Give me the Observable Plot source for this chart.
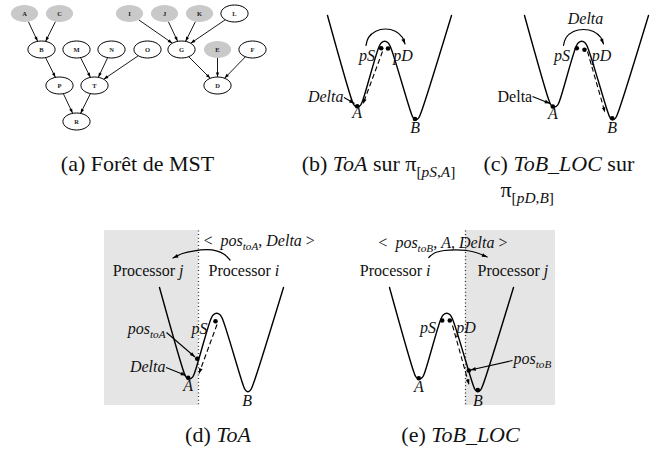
<!DOCTYPE html>
<html><head><meta charset="utf-8">
<script src="https://cdn.jsdelivr.net/npm/d3@7"></script>
<script src="https://cdn.jsdelivr.net/npm/@observablehq/plot@0.6"></script>
<style>body{margin:0;background:#fff}</style>
</head><body><div id="chart"></div>
<script>
// ---------------- data ----------------
// (a) MST forest
const nodeNames = ["A","C","I","J","K","L","B","M","N","O","G","E","F","P","T","D","R"];
const nodeX = [24,59,129,164,199,234,41,76,111,147,181,217,252,59,94,217,76];
const nodeY = [13,13,13,13,13,13,49,49,49,49,49,49,49,85,85,85,121];
const grayNodes = ["A","C","I","J","K","E"];
const edgeFrom = ["A","C","B","M","N","O","P","T","I","J","K","L","G","E","F"];
const edgeTo   = ["B","B","P","T","T","T","R","R","G","G","G","G","D","D","D"];

// W-shaped curve (panel b frame) and per-panel placement
const wX = [327, 351.5, 353.6, 356.8, 360.1, 362.2, 378.4, 380.9, 384.2, 387.5, 390, 410.8, 412.9, 415.4, 418, 420.2, 451];
const wY = [15, 100, 104.6, 106.6, 104.6, 100, 46.5, 42.2, 40.7, 42.2, 46.5, 113, 117.6, 119.3, 117.6, 113, 15];
const wPanel = ["b","c","d","e"];
const wShiftX = [0, 197, -168, 62];
const wShiftY = [0, 0, 272, 272];

// processor regions (d, e)
const shadeX1 = [104, 465], shadeX2 = [198, 555], shadeY1 = [230, 230], shadeY2 = [405, 405];
const dividerX = [198, 465], dividerY1 = [230, 230], dividerY2 = [405, 405];

// black points
const dotX = [356.7,380.7,387.5,414.5, 552.3,576.3,584,611.7, 215,196.7,187.7, 441.7,449.3,468.3,477.3,418.3];
const dotY = [105.8,47.8,48,118.5, 106,47.7,49.3,117.7, 320.7,358.3,377.2, 320,320,370,389.5,377.7];

// solid pointer arrows
const arrowX1 = [343.5, 532, 166, 165.5, 512];
const arrowY1 = [97, 96, 332, 367, 360];
const arrowX2 = [354, 549.5, 194.5, 185.5, 470];
const arrowY2 = [103, 103, 356.5, 375, 369.5];

// dashed arrows
const dashX1 = [382, 587, 216.5, 452];
const dashY1 = [51, 51, 324, 325];
const dashX2 = [362.5, 604.5, 198.5, 468.5];
const dashY2 = [103.5, 112, 373, 384];

// curved arrows
const arcXs = [[365.5,368.1,375.3,385,394.8,401.9,404.5],
               [563,565.7,573,583,593,600.3,603],
               [229.5,224,216,206,194,182,172.5],
               [428.3,434,444,455,466,477,486.7]];
const arcYs = [[45,36.8,30.7,28.5,30.7,36.8,43.5],
               [45,37,31,29,31,37,43.5],
               [259.5,254,250.3,249.2,250.3,253,257.5],
               [257,252.5,250,249.3,250,252.5,256.5]];

// labels (*italic*, ~{subscript})
const labelText = ["*pS*","*pD*","*Delta*","*A*","*B*",
  "*Delta*","*pS*","*pD*","Delta","*A*","*B*",
  "<  *pos*~{*toA*}, *Delta* >","Processor *i*","Processor *j*","*pS*","*pos*~{*toA*}","*Delta*","*A*","*B*",
  "<  *pos*~{*toB*}, *A*, *Delta* >","Processor *i*","Processor *j*","*pS*","*pD*","*pos*~{*toB*}","*A*","*B*"];
const labelX = [366.5,402.5,343,356.7,414.7, 585,561.5,601,531.7,552.3,611.7,
  203,208,183,199,165,165,187.7,246.7, 507,430,477,427.5,465.5,513,418.3,477.3];
const labelY = [55,55,96.5,112.5,127, 18,55,55,96.7,113.5,127,
  240,270,270,328,328,366.7,385.5,400, 242,270,270,327,327,358,386,400];
const labelAnchor = ["middle","middle","end","middle","middle","middle","middle","middle","end","middle","middle",
  "start","start","end","middle","end","end","middle","middle","end","end","start","middle","middle","start","middle","middle"];

// captions
const captionText = ["(a) Forêt de MST","(b) *ToA* sur π~{[*pS*,*A*]}","(c) *ToB_LOC* sur","π~{[*pD*,*B*]}","(d) *ToA*","(e) *ToB_LOC*"];
const captionX = [137, 378, 483, 500, 217.5, 460];
const captionY = [163, 163, 163, 189, 434, 434];
const captionAnchor = ["middle","middle","start","start","middle","middle"];

// ---------------- helpers ----------------
const family = "Liberation Serif, DejaVu Serif, serif";
const mctx = document.createElement("canvas").getContext("2d");
function parseMarkup(str) {
  const segs = []; let it = false, sub = false, buf = "";
  const push = () => { if (buf) segs.push({t: buf, it, sub}); buf = ""; };
  for (let i = 0; i < str.length; i++) {
    const c = str[i];
    if (c === "*") { push(); it = !it; }
    else if (c === "~" && str[i+1] === "{") { push(); sub = true; i++; }
    else if (c === "}" && sub) { push(); sub = false; }
    else buf += c;
  }
  push();
  return segs;
}
function measure(t, it, sz) { mctx.font = `${it ? "italic " : ""}${sz}px "Liberation Serif", "DejaVu Serif", serif`; return mctx.measureText(t).width; }
function layoutText(str, x, y, anchor, fs, subDrop) {
  const segs = parseMarkup(str);
  const sizes = segs.map(s => s.sub ? fs * 0.7 : fs);
  const widths = segs.map((s, k) => measure(s.t, s.it, sizes[k]));
  const total = d3.sum(widths);
  let cx = anchor === "start" ? x : anchor === "end" ? x - total : x - total / 2;
  const base = y + 0.32 * fs;
  const rows = [];
  segs.forEach((s, k) => {
    const lead = s.t.length - s.t.trimStart().length;
    const leadW = lead ? measure(s.t.slice(0, lead), s.it, sizes[k]) : 0;
    const t = s.t.trim();
    if (t) rows.push({x: cx + leadW, y: base + (s.sub ? subDrop * fs : 0) - 0.32 * sizes[k], t, it: s.it, fs: sizes[k]});
    cx += widths[k];
  });
  return rows;
}
function headRow(x0, y0, x1, y1) {
  return {x: x1, y: y1, a: Math.atan2(x1 - x0, -(y1 - y0)) * 180 / Math.PI};
}
const headSymbol = {draw(ctx, size) {
  const r = Math.sqrt(size / Math.PI);
  ctx.moveTo(0, 0); ctx.lineTo(-0.8 * r, 2.3 * r); ctx.lineTo(0.8 * r, 2.3 * r); ctx.closePath();
}};
const ellipseSymbol = {draw(ctx, size) {
  const r = Math.sqrt(size / Math.PI), rx = r * 1.6, ry = r, k = 0.5523;
  ctx.moveTo(rx, 0);
  ctx.bezierCurveTo(rx, k * ry, k * rx, ry, 0, ry);
  ctx.bezierCurveTo(-k * rx, ry, -rx, k * ry, -rx, 0);
  ctx.bezierCurveTo(-rx, -k * ry, -k * rx, -ry, 0, -ry);
  ctx.bezierCurveTo(k * rx, -ry, rx, -k * ry, rx, 0);
  ctx.closePath();
}};

// ---------------- derived tables ----------------
const nodeR = 8.5, nodeRX = nodeR * 1.6, nodeRY = nodeR;
const nodes = nodeNames.map((n, i) => ({n, x: nodeX[i], y: nodeY[i], gray: grayNodes.includes(n)}));
const nodeBy = new Map(nodes.map(d => [d.n, d]));
function boundary(c, ux, uy) {
  const t = 1 / Math.sqrt((ux / nodeRX) ** 2 + (uy / nodeRY) ** 2);
  return [c.x + t * ux, c.y + t * uy];
}
const edges = edgeFrom.map((f, i) => {
  const s = nodeBy.get(f), t = nodeBy.get(edgeTo[i]);
  const dx = t.x - s.x, dy = t.y - s.y, L = Math.hypot(dx, dy), ux = dx / L, uy = dy / L;
  const [x1, y1] = boundary(s, ux, uy);
  const [x2, y2] = boundary(t, -ux, -uy);
  return {x1, y1, x2, y2};
});
const edgeHeads = edges.map(e => headRow(e.x1, e.y1, e.x2, e.y2));

const wRows = [];
wPanel.forEach((p, j) => wX.forEach((x, i) => wRows.push({p, x: x + wShiftX[j], y: wY[i] + wShiftY[j]})));
const arcRows = [];
arcXs.forEach((xs, j) => xs.forEach((x, i) => arcRows.push({id: j, x, y: arcYs[j][i]})));
const arrows = arrowX1.map((x, i) => ({x1: x, y1: arrowY1[i], x2: arrowX2[i], y2: arrowY2[i]}));
const dashes = dashX1.map((x, i) => ({x1: x, y1: dashY1[i], x2: dashX2[i], y2: dashY2[i]}));
const heads = [
  ...arrows.map(a => headRow(a.x1, a.y1, a.x2, a.y2)),
  ...dashes.map(a => headRow(a.x1, a.y1, a.x2, a.y2)),
  ...arcXs.map((xs, j) => { const n = xs.length, ys = arcYs[j]; return headRow(xs[n-2], ys[n-2], xs[n-1], ys[n-1]); })
];
const dots = dotX.map((x, i) => ({x, y: dotY[i]}));
const shades = shadeX1.map((x, i) => ({x1: x, x2: shadeX2[i], y1: shadeY1[i], y2: shadeY2[i]}));
const dividers = dividerX.map((x, i) => ({x, y1: dividerY1[i], y2: dividerY2[i]}));

const textRows = [];
labelText.forEach((s, i) => textRows.push(...layoutText(s, labelX[i], labelY[i], labelAnchor[i], 16, 0.25)));
captionText.forEach((s, i) => textRows.push(...layoutText(s, captionX[i], captionY[i], captionAnchor[i], 22, 0.3)));

// ---------------- plot ----------------
const chart = Plot.plot({
  width: 670, height: 451,
  marginTop: 0, marginRight: 0, marginBottom: 0, marginLeft: 0,
  x: {domain: [0, 670], range: [0, 670], axis: null},
  y: {domain: [0, 451], range: [0, 451], axis: null},
  style: {background: "white", overflow: "visible"},
  marks: [
    Plot.rect(shades, {x1: "x1", x2: "x2", y1: "y1", y2: "y2", fill: "#e5e5e5"}),
    Plot.link(dividers, {x1: "x", x2: "x", y1: "y1", y2: "y2", stroke: "#333", strokeWidth: 1.3, strokeDasharray: "1,2.6"}),
    // (a) forest
    Plot.link(edges, {x1: "x1", y1: "y1", x2: "x2", y2: "y2", stroke: "black", strokeWidth: 0.9}),
    Plot.dot(edgeHeads, {x: "x", y: "y", rotate: "a", symbol: headSymbol, r: 2, fill: "black"}),
    Plot.dot(nodes.filter(d => d.gray), {x: "x", y: "y", symbol: ellipseSymbol, r: nodeR, fill: "#c9c9c9"}),
    Plot.dot(nodes.filter(d => !d.gray), {x: "x", y: "y", symbol: ellipseSymbol, r: nodeR, fill: "white", stroke: "black", strokeWidth: 1}),
    Plot.text(nodes, {x: "x", y: "y", text: "n", fontSize: 6.5, fill: "#222", fontWeight: "bold", fontFamily: family}),
    // W curves
    Plot.line(wRows, {x: "x", y: "y", z: "p", curve: "catmull-rom", stroke: "black", strokeWidth: 1.4}),
    Plot.line(arcRows, {x: "x", y: "y", z: "id", curve: "catmull-rom", stroke: "black", strokeWidth: 1.2}),
    Plot.link(arrows, {x1: "x1", y1: "y1", x2: "x2", y2: "y2", stroke: "black", strokeWidth: 1.1}),
    Plot.link(dashes, {x1: "x1", y1: "y1", x2: "x2", y2: "y2", stroke: "black", strokeWidth: 1.1, strokeDasharray: "5,3"}),
    Plot.dot(heads, {x: "x", y: "y", rotate: "a", symbol: headSymbol, r: 2.3, fill: "black"}),
    Plot.dot(dots, {x: "x", y: "y", r: 2.3, fill: "black"}),
    // texts
    Plot.text(textRows.filter(d => !d.it), {x: "x", y: "y", text: "t", fontSize: "fs", textAnchor: "start", fill: "#111", fontFamily: family}),
    Plot.text(textRows.filter(d => d.it), {x: "x", y: "y", text: "t", fontSize: "fs", textAnchor: "start", fontStyle: "italic", fill: "#111", fontFamily: family})
  ]
});
document.getElementById("chart").append(chart);
</script>
</body></html>
